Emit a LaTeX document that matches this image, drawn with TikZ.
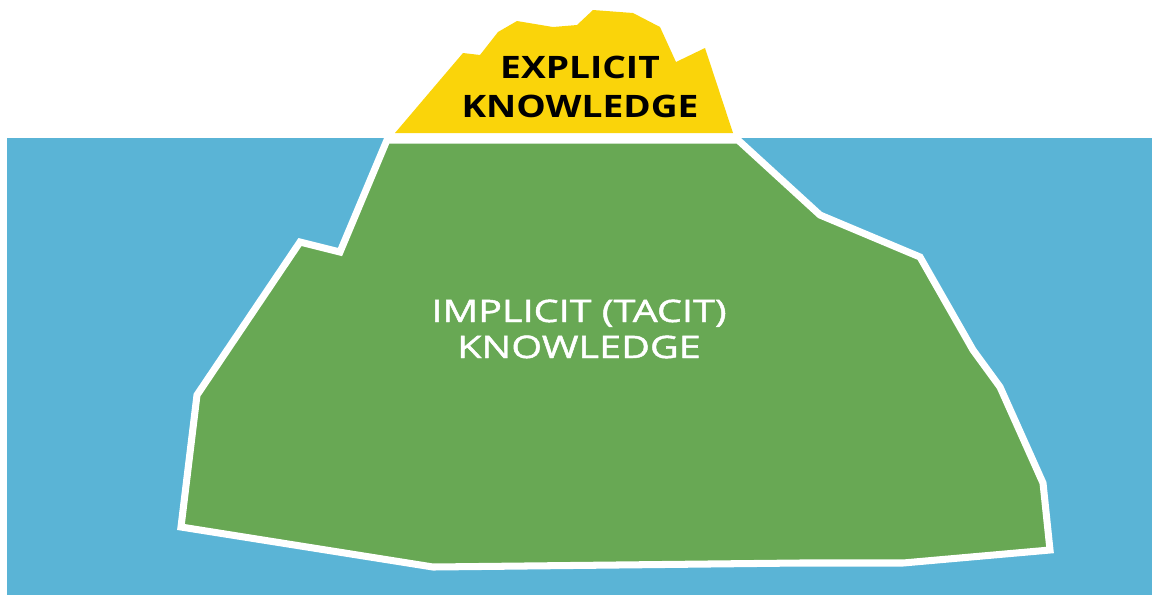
\documentclass[tikz,border=0pt]{standalone}
\usepackage{fontspec}
\setmainfont{Open Sans}
\newfontfamily\tipfont[FakeStretch=1.2]{Open Sans}
\newfontfamily\bergfont[FakeStretch=1.28, FakeBold=1.5]{Open Sans}
\definecolor{sea}{HTML}{5AB4D6}
\definecolor{berg}{HTML}{68A854}
\definecolor{tip}{HTML}{FAD40A}
\begin{document}
\begin{tikzpicture}[
  x=0.025cm, y=-0.025cm,
  tiptext/.style={anchor=base, inner sep=0pt, font=\tipfont\bfseries\fontsize{22}{26}\selectfont, black},
  bergtext/.style={anchor=base, inner sep=0pt, font=\bergfont\fontsize{22}{26}\selectfont, white}
]
  \useasboundingbox (0,0) rectangle (1152,595);

  % water
  \fill[sea] (7,138) rectangle (1152,595);

  % tip above the water line
  \fill[tip] (395,133) -- (440,80) -- (463,53) -- (480,55) -- (498,32) -- (517,21)
    -- (553,27) -- (577,25) -- (593,10) -- (633,13) -- (660,27) -- (676,62)
    -- (705,48) -- (733,133) -- cycle;

  % part under the water
  \draw[white, line width=5pt, fill=berg, line join=miter]
    (387,140) -- (738,140) -- (820,215) -- (920,257) -- (973,350) -- (1000,387)
    -- (1043,483) -- (1050,550) -- (903,563) -- (800,563) -- (433,567)
    -- (181,527) -- (197,395) -- (300,242) -- (340,252) -- cycle;

  % labels
  \node[tiptext] (exp1) at (580,78) {EXPLICIT};
  \node[tiptext] (exp2) at (580,117) {KNOWLEDGE};
  \node[bergtext] (imp1) at (579,322) {IMPLICIT (TACIT)};
  \node[bergtext] (imp2) at (579,358) {KNOWLEDGE};
\end{tikzpicture}
\end{document}
